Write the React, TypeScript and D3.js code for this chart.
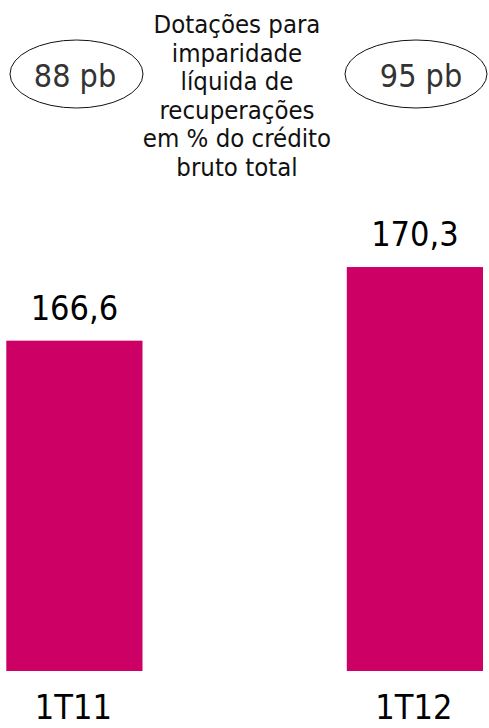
import * as d3 from 'd3';

const categories = ['1T11', '1T12'];
const values = [166.6, 170.3];
const valueLabels = ['166,6', '170,3'];
const badgeLabels = ['88 pb', '95 pb'];
const titleLines = [
  'Dotações para',
  'imparidade',
  'líquida de',
  'recuperações',
  'em % do crédito',
  'bruto total',
];

const W = 489;
const H = 728;
const BAR = '#CD0066';
const FONT = '"DejaVu Sans Condensed", "DejaVu Sans", sans-serif';

export default function App() {
  // bars share one band scale; y axis starts at 150, not zero
  const x = d3.scaleBand<string>().domain(categories).range([6.3, 483]).paddingInner(0.6).paddingOuter(0);
  const y = d3.scaleLinear().domain([150, 175]).range([671, 173.5]);

  // ellipses sit roughly over each bar
  const badges = [
    { cx: 76.5, cy: 74, rx: 66.5, ry: 34, tx: 75 },
    { cx: 416, cy: 74, rx: 71, ry: 34, tx: 421 },
  ];

  return (
    <svg
      width={W}
      height={H}
      style={{ position: 'absolute', left: 0, top: 0, overflow: 'hidden', background: '#fff' }}
      fontFamily={FONT}
    >
      {/* title block */}
      <text x={237} textAnchor="middle" fontSize={25.5} fill="#111">
        {titleLines.map((l, i) => (
          <tspan key={l} x={237} y={33 + i * 28.6}>
            {l}
          </tspan>
        ))}
      </text>

      {badges.map((b, i) => (
        <g key={badgeLabels[i]}>
          <ellipse cx={b.cx} cy={b.cy} rx={b.rx} ry={b.ry} fill="none" stroke="#111" strokeWidth={1} />
          <text x={b.tx} y={87} textAnchor="middle" fontSize={32} fill="#333">
            {badgeLabels[i]}
          </text>
        </g>
      ))}

      {categories.map((c, i) => {
        const x0 = x(c)!;
        const bw = x.bandwidth();
        const cx = x0 + bw / 2;
        return (
          <g key={c}>
            <rect x={x0} y={y(values[i])} width={bw} height={y(150) - y(values[i])} fill={BAR} />
            <text x={cx} y={y(values[i]) - 21} textAnchor="middle" fontSize={34} fill="#000">
              {valueLabels[i]}
            </text>
            <text x={cx - 1} y={719} textAnchor="middle" fontSize={34} fill="#000">
              {c}
            </text>
          </g>
        );
      })}
    </svg>
  );
}
